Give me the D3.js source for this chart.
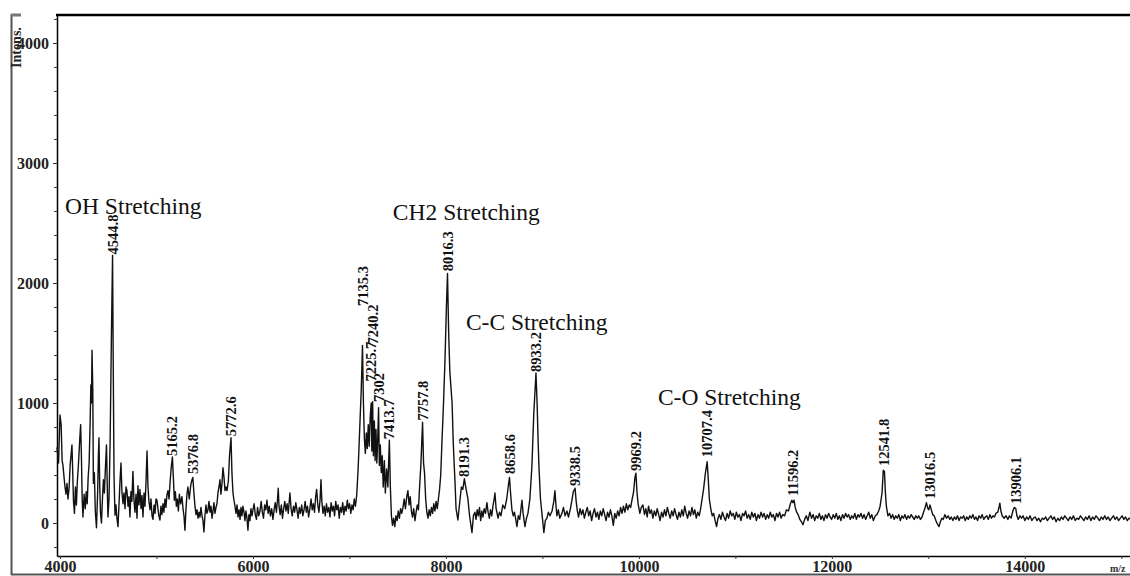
<!DOCTYPE html>
<html>
<head>
<meta charset="utf-8">
<script src="https://cdn.jsdelivr.net/npm/d3@7"></script>
<style>
  body { margin: 0; background: #fff; }
  svg { display: block; }
</style>
</head>
<body>
<div id="chart"></div>
<script>
// spectrum: [m/z, intensity]
var spectrum = [
  [3969, 630], [3985, 500], [4000, 900], [4012, 820], [4022, 520], [4031, 480], [4042, 380], [4052, 300],
  [4062, 240], [4073, 330], [4083, 200], [4095, 300], [4105, 480], [4114, 560], [4124, 650], [4132, 420],
  [4140, 180], [4150, 80], [4160, 300], [4170, 150], [4180, 350], [4190, 470], [4205, 700], [4214, 820],
  [4222, 560], [4230, 200], [4238, 50], [4250, 240], [4262, 120], [4272, 260], [4282, 160], [4292, 380],
  [4302, 500], [4312, 820], [4320, 1150], [4326, 1000], [4332, 1440], [4340, 1100], [4346, 330], [4356, 420],
  [4366, 100], [4378, -40], [4390, 250], [4398, 560], [4404, 710], [4412, 300], [4420, 80], [4430, 0],
  [4440, 200], [4450, 360], [4460, 250], [4472, 480], [4482, 650], [4490, 300], [4497, 50], [4508, 200],
  [4520, 700], [4532, 1500], [4544.8, 2230], [4552, 1300], [4560, 400], [4570, 65], [4580, 150], [4590, 40],
  [4601, -30], [4612, 160], [4622, 350], [4632, 500], [4642, 260], [4653, 160], [4663, 250], [4674, 120],
  [4684, 300], [4694, 270], [4705, 140], [4715, 220], [4725, 50], [4735, 260], [4745, 180], [4756, 430],
  [4766, 200], [4777, 90], [4788, 240], [4798, 40], [4808, 310], [4818, 150], [4829, 280], [4840, 120],
  [4850, 230], [4860, 50], [4871, 250], [4881, 140], [4892, 350], [4902, 600], [4912, 300], [4922, 180],
  [4933, 110], [4943, 200], [4954, 60], [4964, 30], [4975, 150], [4985, 80], [4995, 200],
  [5005, 190], [5015, 120], [5025, 60], [5036, 25], [5046, 140], [5056, 70], [5067, 160], [5077, 90],
  [5088, 200], [5098, 130], [5108, 230], [5119, 270], [5130, 200], [5142, 350], [5155, 480], [5165.2, 550],
  [5175, 380], [5185, 190], [5196, 260], [5206, 140], [5216, 200], [5227, 100], [5237, 240], [5250, 160],
  [5264, 220], [5275, 120], [5285, 60], [5295, -60], [5306, 120], [5316, 240], [5326, 300], [5340, 200],
  [5356, 320], [5368, 360], [5376.8, 380], [5388, 250], [5399, 140], [5410, 70], [5420, 110], [5431, 40],
  [5441, 90], [5451, 50], [5461, 130], [5472, 60], [5482, 20], [5492, -75], [5502, 60], [5513, 150],
  [5523, 80], [5534, 110], [5544, 180], [5555, 90], [5565, 140], [5576, 40], [5586, 100], [5596, 170],
  [5606, 80], [5617, 130], [5627, 160], [5637, 250], [5648, 300], [5658, 360], [5668, 240], [5679, 330],
  [5689, 460], [5700, 380], [5710, 270], [5720, 300], [5731, 270], [5745, 350], [5757, 560], [5772.6, 710],
  [5782, 420], [5793, 250], [5803, 190], [5814, 140], [5824, 80], [5835, 150], [5845, 50], [5856, 110],
  [5866, 30], [5876, 130], [5886, 60], [5896, 140], [5907, 90], [5917, 20], [5927, 100], [5938, 40],
  [5948, -60], [5958, 70], [5969, 20], [5979, 120], [5990, 60], [6000, 110],
  [6012, 160], [6024, 70], [6036, 30], [6048, 130], [6060, 60], [6073, 100], [6085, 180], [6097, 90],
  [6109, 40], [6121, 150], [6133, 110], [6145, 190], [6157, 80], [6169, 140], [6181, 60], [6194, 120],
  [6207, 30], [6219, 110], [6231, 170], [6243, 90], [6255, 200], [6262, 290], [6270, 140], [6282, 70],
  [6294, 150], [6306, 40], [6318, 120], [6330, 180], [6342, 100], [6354, 160], [6366, 80], [6378, 200],
  [6383, 250], [6395, 120], [6407, 60], [6420, 140], [6432, 90], [6444, 170], [6456, 110], [6468, 40],
  [6480, 130], [6492, 80], [6505, 150], [6517, 60], [6529, 110], [6541, 180], [6553, 90], [6565, 140],
  [6577, 50], [6590, 120], [6602, 200], [6614, 110], [6626, 160], [6638, 90], [6650, 220], [6660, 280],
  [6672, 150], [6684, 90], [6696, 200], [6705, 360], [6714, 180], [6726, 80], [6738, 140], [6750, 60],
  [6762, 160], [6774, 90], [6786, 130], [6798, 50], [6810, 170], [6822, 100], [6834, 140], [6846, 60],
  [6858, 180], [6870, 110], [6882, 150], [6894, 40], [6906, 130], [6918, 90], [6930, 170], [6942, 70],
  [6954, 140], [6966, 100], [6978, 190], [6990, 120], [7002, 160], [7014, 80], [7026, 150], [7038, 110],
  [7050, 200], [7062, 140], [7075, 230],
  [7090, 450], [7100, 650], [7112, 900], [7122, 1100], [7135.3, 1480], [7145, 1000], [7155, 700], [7165, 580],
  [7175, 750], [7185, 620], [7195, 820], [7205, 640], [7215, 880], [7225.7, 1000], [7232, 600], [7240.2, 1010],
  [7248, 560], [7258, 850], [7266, 520], [7275, 780], [7284, 500], [7293, 700], [7302, 960], [7310, 480],
  [7320, 650], [7330, 420], [7340, 560], [7350, 300], [7362, 520], [7372, 250], [7385, 450], [7398, 300],
  [7413.7, 690], [7424, 300], [7435, 60], [7446, -20], [7458, 40], [7470, -30],
  [7482, 60], [7494, 20], [7506, 100], [7518, 40], [7530, 120], [7542, 80], [7555, 130], [7567, 200],
  [7580, 120], [7594, 220], [7606, 270], [7618, 150], [7630, 220], [7642, 100], [7654, 50], [7666, 120],
  [7679, 20], [7691, 90], [7703, 150], [7715, 110], [7727, 300], [7740, 480], [7757.8, 840], [7768, 500],
  [7778, 420], [7790, 200], [7802, 90], [7814, 40], [7826, 110], [7838, 60], [7850, 130], [7862, 80],
  [7874, 160], [7886, 100], [7898, 180], [7910, 120], [7922, 200], [7934, 280], [7946, 400], [7960, 700],
  [7975, 1000], [7990, 1350], [8005, 1800], [8016.3, 2080], [8028, 1600], [8040, 1270], [8052, 1130], [8064, 1000],
  [8075, 690], [8085, 500], [8093, 360], [8105, 120], [8124, 25], [8140, 150], [8160, 300], [8175, 280],
  [8191.3, 370], [8205, 300], [8228, 200], [8245, 60], [8270, -80], [8285, 60],
  [8300, 90], [8312, 30], [8324, 110], [8336, 60], [8348, 130], [8360, 20], [8372, 100], [8384, 50],
  [8396, 120], [8410, 80], [8425, 170], [8437, 90], [8450, 40], [8462, 110], [8475, 60], [8487, 140],
  [8500, 200], [8508, 250], [8520, 120], [8540, 40], [8555, 90], [8570, 60], [8590, 150], [8610, 120],
  [8630, 200], [8645, 300], [8658.6, 380], [8670, 250], [8684, 110], [8698, 60], [8710, 90], [8724, 30],
  [8736, -30], [8750, 60], [8765, 30], [8778, 120], [8788, 190], [8800, 80], [8819, -30], [8835, 40],
  [8850, 80], [8870, 200], [8891, 470], [8910, 900], [8933.2, 1250], [8945, 1000], [8955, 700], [8964, 470],
  [8980, 200], [8995, 80], [9015, -80], [9030, 20], [9047, 40], [9062, 90], [9078, 60], [9100, 100],
  [9118, 180], [9130, 270], [9140, 150], [9150, 60], [9165, 110], [9180, 40], [9202, 80], [9218, 130],
  [9235, 60], [9254, 100], [9270, 50], [9290, 120], [9306, 190], [9320, 260], [9338.5, 290], [9350, 180],
  [9362, 100], [9375, 50], [9390, 120],
  [9405, 70], [9420, 110], [9435, 40], [9450, 90], [9465, 130], [9480, 60], [9495, 100], [9510, 20],
  [9525, 80], [9540, 120], [9555, 50], [9570, 90], [9585, 30], [9600, 100], [9615, 60], [9630, 120],
  [9645, 70], [9660, 20], [9675, 90], [9690, 50], [9705, 110], [9720, 60], [9735, -20], [9750, 80],
  [9765, 40], [9780, 100], [9795, 60], [9810, 130], [9825, 80], [9840, 140], [9855, 90], [9870, 160],
  [9885, 110], [9900, 150], [9915, 130], [9928, 190], [9945, 260], [9959, 380], [9969.2, 415], [9980, 260],
  [9992, 160], [10010, 80], [10025, 130], [10042, 150], [10058, 70], [10072, 120], [10086, 50], [10100, 140],
  [10115, 80], [10130, 110], [10145, 40], [10160, 100], [10175, 60], [10190, 120], [10205, 70], [10220, 20],
  [10235, 90], [10250, 50], [10265, 110], [10280, 60], [10295, 130], [10310, 80], [10325, 40], [10340, 100],
  [10355, 60], [10370, 120], [10385, 70], [10400, 30], [10415, 90], [10430, 50], [10445, 110], [10460, 60],
  [10475, 140], [10490, 80], [10505, 40], [10520, 100], [10535, 60], [10550, 130], [10565, 70], [10580, 110],
  [10595, 40], [10610, 90], [10625, 60], [10640, 120], [10655, 200], [10670, 280], [10690, 420], [10707.4, 510],
  [10718, 380], [10730, 200], [10745, 120], [10760, 60], [10775, 80], [10790, 20], [10805, -30], [10820, 40],
  [10835, 70], [10850, 30], [10866, 90], [10882, 50], [10898, 20], [10914, 80], [10930, 40], [10946, 100],
  [10962, 60], [10978, 80], [10994, 30], [11010, 90], [11026, 50], [11042, 70], [11058, 20], [11074, 80],
  [11090, 60], [11106, 100], [11122, 40], [11138, 70], [11154, 30], [11170, 90], [11186, 50], [11202, 80],
  [11218, 20], [11234, 70], [11250, 40], [11266, 90], [11282, 50], [11298, 80], [11314, 30], [11330, 70],
  [11346, 40], [11362, 90], [11378, 50], [11394, 70], [11410, 20], [11426, 80], [11442, 50], [11458, 90],
  [11474, 40], [11490, 70], [11510, 60], [11530, 110], [11550, 100], [11570, 160], [11585, 190], [11596.2, 170],
  [11608, 190], [11620, 130], [11635, 90], [11650, 70], [11668, 30], [11685, 10], [11700, -15], [11718, 30],
  [11735, 60], [11752, 20], [11772, 90], [11790, 40], [11806, 70], [11822, 20], [11838, 60], [11854, 40],
  [11870, 80], [11886, 30], [11902, 60], [11918, 20], [11934, 70], [11950, 40], [11966, 80], [11982, 50],
  [11998, 30], [12014, 70], [12030, 40], [12046, 80], [12062, 30], [12078, 60], [12094, 20], [12110, 70],
  [12126, 40], [12142, 80], [12158, 50], [12174, 70], [12190, 30], [12206, 60], [12222, 40], [12238, 80],
  [12254, 30], [12270, 70], [12286, 50], [12302, 80], [12318, 40], [12334, 70], [12350, 30], [12366, 60],
  [12382, 90], [12398, 40], [12414, 70], [12430, 20], [12450, 60], [12467, 70], [12485, 100], [12500, 140],
  [12520, 250], [12533, 440], [12545, 430], [12555, 250], [12565, 140], [12581, 60], [12598, 80], [12614, 40],
  [12630, 70], [12646, 30], [12662, 60], [12678, 40], [12694, 70], [12710, 20], [12726, 60], [12742, 40],
  [12758, 70], [12774, 30], [12790, 60], [12806, 40], [12822, 70], [12838, 50], [12854, 30], [12870, 60],
  [12886, 40], [12900, 60], [12918, 30], [12935, 50], [12950, 90], [12964, 120], [12980, 170], [12995, 120],
  [13005, 110], [13016.5, 150], [13028, 120], [13045, 70], [13060, 60], [13078, 20], [13095, -10], [13110, -30],
  [13125, 10], [13140, 40], [13155, 30], [13171, 70], [13188, 40], [13205, 60], [13222, 30], [13238, 50],
  [13254, 20], [13270, 50], [13286, 30], [13302, 60], [13318, 20], [13334, 50], [13350, 40], [13366, 60],
  [13382, 20], [13398, 50], [13414, 30], [13430, 60], [13446, 40], [13462, 70], [13478, 30], [13494, 50],
  [13510, 20], [13526, 60], [13542, 40], [13558, 70], [13574, 30], [13590, 50], [13606, 60], [13622, 30],
  [13638, 70], [13654, 40], [13670, 60], [13686, 50], [13700, 80], [13720, 90], [13735, 140], [13741, 165],
  [13752, 100], [13765, 60], [13785, 40], [13805, 60], [13824, 30], [13840, 60], [13858, 40], [13876, 100],
  [13890, 130], [13906.1, 120], [13918, 60], [13932, 30], [13950, 60], [13966, 40], [13982, 60], [14000, 20],
  [14018, 50], [14036, 30], [14054, 60], [14072, 20], [14090, 40], [14108, 50], [14126, 20], [14144, 40],
  [14162, 10], [14180, 40], [14198, 30], [14216, 50], [14234, 20], [14252, 40], [14270, 60], [14288, 30],
  [14306, 50], [14324, 10], [14342, 40], [14360, 20], [14378, 50], [14396, 30], [14414, 60], [14432, 40],
  [14450, 20], [14468, 50], [14486, 30], [14504, 60], [14522, 20], [14540, 40], [14558, 30], [14576, 60],
  [14594, 40], [14612, 20], [14630, 50], [14648, 30], [14666, 60], [14684, 20], [14702, 50], [14720, 30],
  [14738, 60], [14756, 40], [14774, 20], [14792, 50], [14810, 30], [14828, 60], [14846, 30], [14864, 50],
  [14882, 20], [14900, 40], [14918, 60], [14936, 30], [14954, 50], [14972, 20], [14990, 40], [15008, 60],
  [15026, 30], [15044, 50], [15062, 20], [15080, 40], [15098, 30]
];

// peak labels: m/z, text, intensity where the label starts
var peaks = [
  {mz: 4544.8, label: "4544.8", level: 2230},
  {mz: 5165.2, label: "5165.2", level: 550},
  {mz: 5376.8, label: "5376.8", level: 400},
  {mz: 5772.6, label: "5772.6", level: 715},
  {mz: 7135.3, label: "7135.3", level: 1800},
  {mz: 7225.7, label: "7225.7", level: 1170},
  {mz: 7240.2, label: "7240.2", level: 1480},
  {mz: 7302, label: "7302", level: 1000},
  {mz: 7413.7, label: "7413.7", level: 690},
  {mz: 7757.8, label: "7757.8", level: 845},
  {mz: 8016.3, label: "8016.3", level: 2090},
  {mz: 8191.3, label: "8191.3", level: 375},
  {mz: 8658.6, label: "8658.6", level: 400},
  {mz: 8933.2, label: "8933.2", level: 1250},
  {mz: 9338.5, label: "9338.5", level: 300},
  {mz: 9969.2, label: "9969.2", level: 425},
  {mz: 10707.4, label: "10707.4", level: 540},
  {mz: 11596.2, label: "11596.2", level: 217},
  {mz: 12541.8, label: "12541.8", level: 467},
  {mz: 13016.5, label: "13016.5", level: 192},
  {mz: 13906.1, label: "13906.1", level: 150}
];

// band annotations anchored in data units
var bands = [
  {text: "OH Stretching", mz: 4052, level: 2575},
  {text: "CH2 Stretching", mz: 7450, level: 2525},
  {text: "C-C Stretching", mz: 8207, level: 1608},
  {text: "C-O Stretching", mz: 10197, level: 983}
];

var xMajor = [4000, 6000, 8000, 10000, 12000, 14000];
var xMinor = [5000, 7000, 9000, 11000, 13000, 15000];
var yMajor = [0, 1000, 2000, 3000, 4000];
var yMinor = [-200, 200, 400, 600, 800, 1200, 1400, 1600, 1800, 2200, 2400, 2600, 2800, 3200, 3400, 3600, 3800, 4200];

var W = 1130, H = 576;
var plot = {left: 57, right: 1130, top: 15, bottom: 556};

var svg = d3.select("#chart")
  .append("svg")
  .attr("width", W)
  .attr("height", H);

var x = d3.scaleLinear()
  .domain([3969, 15090])
  .range([plot.left, plot.right]);

var y = d3.scaleLinear()
  .domain([-275, 4233])
  .range([plot.bottom, plot.top]);

var serif = "'Liberation Serif', 'Times New Roman', serif";

// outer frame (grey)
svg.append("line")
  .attr("x1", 11.5).attr("x2", 11.5).attr("y1", 14).attr("y2", 575)
  .attr("stroke", "#555").attr("stroke-width", 2);
svg.append("line")
  .attr("x1", 11).attr("x2", W).attr("y1", 574.5).attr("y2", 574.5)
  .attr("stroke", "#555").attr("stroke-width", 2);
svg.append("line")
  .attr("x1", 11).attr("x2", 21).attr("y1", 15).attr("y2", 15)
  .attr("stroke", "#777").attr("stroke-width", 3);

// top border of plot
svg.append("line")
  .attr("x1", plot.left - 1).attr("x2", W).attr("y1", plot.top).attr("y2", plot.top)
  .attr("stroke", "#000").attr("stroke-width", 2.5);

// y axis
svg.append("g")
  .attr("transform", "translate(" + plot.left + ",0)")
  .call(d3.axisLeft(y).tickValues(yMajor).tickSize(4).tickSizeOuter(0).tickPadding(4).tickFormat(d3.format("d")));
svg.append("g")
  .attr("transform", "translate(" + plot.left + ",0)")
  .call(d3.axisLeft(y).tickValues(yMinor).tickSize(3).tickSizeOuter(0).tickFormat(""))
  .select(".domain").remove();

// x axis
svg.append("g")
  .attr("transform", "translate(0," + plot.bottom + ")")
  .call(d3.axisBottom(x).tickValues(xMajor).tickSize(3).tickSizeOuter(0).tickPadding(2).tickFormat(d3.format("d")));
svg.append("g")
  .attr("transform", "translate(0," + plot.bottom + ")")
  .call(d3.axisBottom(x).tickValues(xMinor).tickSize(3).tickSizeOuter(0).tickFormat(""))
  .select(".domain").remove();

svg.selectAll(".tick line").attr("stroke", "#333");
svg.selectAll(".domain").attr("stroke", "#000").attr("stroke-width", 1.5);
svg.selectAll(".tick text")
  .style("font-family", serif)
  .style("font-weight", "bold")
  .style("font-size", "16px")
  .attr("fill", "#222");

// axis titles
svg.append("text")
  .attr("transform", "translate(21,68) rotate(-90)")
  .text("Intens.")
  .style("font-family", serif)
  .style("font-weight", "bold")
  .style("font-size", "14px")
  .attr("fill", "#222");

svg.append("text")
  .attr("x", 1110).attr("y", 572)
  .text("m/z")
  .style("font-family", serif)
  .style("font-weight", "bold")
  .style("font-size", "10px")
  .attr("fill", "#333");

// spectrum trace
var line = d3.line()
  .x(function(d) { return x(d[0]); })
  .y(function(d) { return y(d[1]); });

svg.append("path")
  .datum(spectrum)
  .attr("d", line)
  .attr("fill", "none")
  .attr("stroke", "#111")
  .attr("stroke-width", 1.4)
  .attr("stroke-linejoin", "round");

// peak labels (rotated)
svg.selectAll(".peak")
  .data(peaks)
  .enter()
  .append("text")
    .attr("class", "peak")
    .attr("transform", function(d) { return "translate(" + x(d.mz) + "," + (y(d.level) - 1) + ") rotate(-90)"; })
    .attr("dy", "0.35em")
    .text(function(d) { return d.label; })
    .style("font-family", serif)
    .style("font-weight", "bold")
    .style("font-size", "14.5px")
    .attr("fill", "#111");

// band annotations
svg.selectAll(".band")
  .data(bands)
  .enter()
  .append("text")
    .attr("class", "band")
    .attr("x", function(d) { return x(d.mz); })
    .attr("y", function(d) { return y(d.level); })
    .text(function(d) { return d.text; })
    .style("font-family", serif)
    .style("font-size", "23.5px")
    .attr("fill", "#111");
</script>
</body>
</html>
